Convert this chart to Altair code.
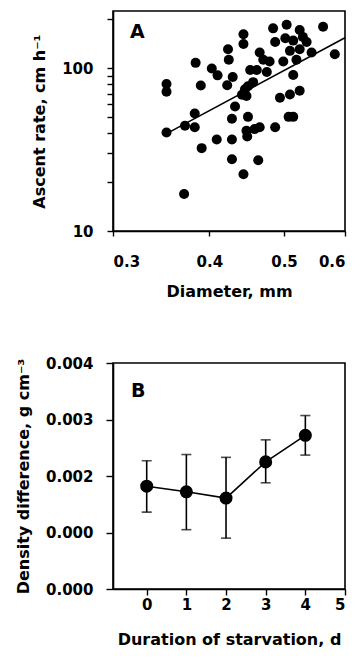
import altair as alt
import pandas as pd

# ---- Panel A data: diameter (mm) vs ascent rate (cm h^-1) ----
diameter = [0.352, 0.352, 0.352, 0.371, 0.372, 0.383, 0.383, 0.384, 0.390, 0.391,
            0.403, 0.410, 0.409, 0.423, 0.424, 0.429, 0.422, 0.428, 0.428, 0.428,
            0.432, 0.443, 0.443, 0.443, 0.445, 0.447, 0.441, 0.449, 0.449, 0.447,
            0.452, 0.456, 0.461, 0.463, 0.465, 0.465, 0.470, 0.475, 0.479, 0.484,
            0.487, 0.487, 0.494, 0.499, 0.504, 0.507, 0.509, 0.509, 0.514, 0.514,
            0.514, 0.519, 0.524, 0.524, 0.524, 0.535, 0.543, 0.562, 0.582, 0.458,
            0.448, 0.502, 0.529]
ascent = [80, 71.7, 40.3, 16.9, 44.4, 52.8, 43.4, 108, 78.3, 32.3,
          99.6, 90.5, 36.5, 131, 113, 88.5, 78.6, 49, 36.5, 27.6,
          58.2, 162, 141, 22.3, 74.4, 67.5, 68.8, 77.5, 50.3, 41.3,
          97.7, 82.2, 97.7, 27.2, 43.4, 125, 113, 95, 110, 176,
          145, 43.4, 65.9, 110, 185, 50.3, 69.1, 128, 148, 91,
          50.3, 113, 172, 131, 72.7, 145, 125, 180, 122, 42.3,
          38.1, 153, 156]
fit_diameter = [0.355, 0.6]
fit_ascent = [40.5, 154]

# ---- Panel B data: density difference vs starvation duration ----
days = [0, 1, 2, 3, 4]
density = [0.00182, 0.00172, 0.00161, 0.00225, 0.00272]
density_hi = [0.00227, 0.00238, 0.00233, 0.00264, 0.00307]
density_lo = [0.00136, 0.00105, 0.00090, 0.00188, 0.00237]

FONT = "DejaVu Sans"

dfA = pd.DataFrame({"d": diameter, "r": ascent})
dfFit = pd.DataFrame({"d": fit_diameter, "r": fit_ascent})
dfB = pd.DataFrame({"t": days, "v": density, "hi": density_hi, "lo": density_lo})

xA = alt.X("d:Q",
           scale=alt.Scale(type="log", domain=[0.3, 0.6], nice=False),
           axis=alt.Axis(title="Diameter, mm", values=[0.3, 0.4, 0.5, 0.6], format=".1f",
                         tickSize=5, labelPadding=18, titlePadding=14))
yA = alt.Y("r:Q",
           scale=alt.Scale(type="log", domain=[10, 225], nice=False),
           axis=alt.Axis(title="Ascent rate, cm h⁻¹",
                         values=[10, 20, 30, 40, 50, 60, 70, 80, 90, 100, 200],
                         labelExpr="(datum.value == 10 || datum.value == 100) ? datum.label : ''",
                         tickSize=6, labelPadding=14, titlePadding=14))

pts = alt.Chart(dfA).mark_circle(size=100, color="black", opacity=1).encode(x=xA, y=yA)
fit = alt.Chart(dfFit).mark_line(color="black", strokeWidth=1.6).encode(x="d:Q", y="r:Q")
labA = alt.Chart(pd.DataFrame({"s": ["A"]})).mark_text(
    font=FONT, fontSize=19, fontWeight="bold", align="left", baseline="top", color="black"
).encode(text="s:N", x=alt.value(17), y=alt.value(12))

panelA = alt.layer(fit, pts, labA).properties(width=232, height=220)

xB = alt.X("t:Q",
           scale=alt.Scale(domain=[-0.85, 5], nice=False, zero=False),
           axis=alt.Axis(title="Duration of starvation, d", values=[0, 1, 2, 3, 4, 5],
                         tickSize=6, labelPadding=2, titlePadding=19))
yB = alt.Y("v:Q",
           scale=alt.Scale(domain=[0, 0.004], nice=False),
           axis=alt.Axis(title="Density difference, g cm⁻³",
                         values=[0, 0.001, 0.002, 0.003, 0.004],
                         labelExpr="abs(datum.value - 0.001) < 1e-7 ? '0.000' : format(datum.value, '.3f')",
                         tickSize=7, labelPadding=13, titlePadding=14))

baseB = alt.Chart(dfB)
lineB = baseB.mark_line(color="black", strokeWidth=1.6).encode(x=xB, y=yB)
errB = baseB.mark_rule(color="black", strokeWidth=1.6).encode(x="t:Q", y="lo:Q", y2="hi:Q")
capHi = baseB.mark_tick(color="black", orient="horizontal", size=10, thickness=1.6).encode(x="t:Q", y="hi:Q")
capLo = baseB.mark_tick(color="black", orient="horizontal", size=10, thickness=1.6).encode(x="t:Q", y="lo:Q")
ptsB = baseB.mark_circle(size=170, color="black", opacity=1).encode(x="t:Q", y="v:Q")
labB = alt.Chart(pd.DataFrame({"s": ["B"]})).mark_text(
    font=FONT, fontSize=19, fontWeight="bold", align="left", baseline="top", color="black"
).encode(text="s:N", x=alt.value(18), y=alt.value(19))

panelB = alt.layer(lineB, errB, capHi, capLo, ptsB, labB).properties(width=232, height=226)

chart = alt.vconcat(panelA, panelB, spacing=55).properties(
    padding={"left": 14, "top": 10, "right": 0, "bottom": 5}
).configure(
    font=FONT, background="white"
).configure_view(
    stroke="black", strokeWidth=1.6
).configure_axis(
    grid=False, domainColor="black", domainWidth=1.6, tickColor="black", tickWidth=1.4,
    labelFont=FONT, labelFontSize=15, labelFontWeight="bold", labelColor="black",
    titleFont=FONT, titleFontSize=16, titleFontWeight="bold", titleColor="black"
)

chart.save("out.html", embed_options={"renderer": "svg", "actions": False})
